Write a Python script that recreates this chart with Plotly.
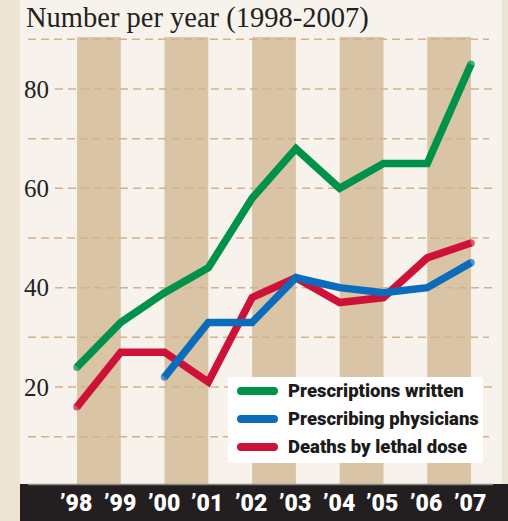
import plotly.graph_objects as go

# ---- data ----
years = [1998, 1999, 2000, 2001, 2002, 2003, 2004, 2005, 2006, 2007]
year_labels = ["\u201998", "\u201999", "\u201900", "\u201901", "\u201902",
               "\u201903", "\u201904", "\u201905", "\u201906", "\u201907"]
prescriptions = [24, 33, 39, 44, 58, 68, 60, 65, 65, 85]
physician_years = [2000, 2001, 2002, 2003, 2004, 2005, 2006, 2007]
physicians = [22, 33, 33, 42, 40, 39, 40, 45]
deaths = [16, 27, 27, 21, 38, 42, 37, 38, 46, 49]
series_names = ["Prescriptions written", "Prescribing physicians", "Deaths by lethal dose"]
y_tick_values = [20, 40, 60, 80]
grid_values = [10, 20, 30, 40, 50, 60, 70, 80, 90]
band_years = [1998, 2000, 2002, 2004, 2006]
title_text = "Number per year (1998-2007)"

# ---- styling / layout constants ----
W, H = 508, 521
GREEN, BLUE, RED = "#00924b", "#0b6cbb", "#cd1138"
BAND = "#d9c4a6"
GRID = "#d2b28a"
PANEL = "#f7f3ec"
OUTER = "#ede4d4"
DARK = "#231f20"
SERIF = "Liberation Serif, Times New Roman, serif"
NARROW = "Roboto, Liberation Sans, Arial, sans-serif"
LW = 7.5

def xp(px):
    return px / W

def yp(py):
    return 1 - py / H

# axis scaling so that 1998 -> 77px, 2007 -> 471px ; 20 -> 387px, 80 -> 89px
px_per_year = (471 - 77) / 9
px_per_unit = (387 - 89) / 60
x_range = [1998 - 77 / px_per_year, 1998 + (W - 77) / px_per_year]
y_range = [20 - (H - 387) / px_per_unit, 20 + 387 / px_per_unit]

fig = go.Figure()

def add_series(x, y, color, name):
    n = len(x)
    sizes = [LW] + [0] * (n - 2) + [LW]
    fig.add_trace(go.Scatter(
        x=x, y=y, mode="lines+markers", name=name,
        line=dict(color=color, width=LW),
        marker=dict(color=color, size=sizes, line=dict(width=0)),
        showlegend=False, hoverinfo="skip",
    ))

add_series(years, prescriptions, GREEN, series_names[0])
add_series(years, deaths, RED, series_names[2])
add_series(physician_years, physicians, BLUE, series_names[1])

shapes = []
# inner panel
shapes.append(dict(type="rect", xref="paper", yref="paper", x0=xp(20), x1=xp(502),
                   y0=0, y1=1, fillcolor=PANEL, line=dict(width=0), layer="below"))
# alternating year bands
for by in band_years:
    shapes.append(dict(type="rect", xref="x", yref="paper", x0=by, x1=by + 1,
                       y0=0, y1=yp(37), fillcolor=BAND, line=dict(width=0), layer="below"))
# dashed gridlines
for g in grid_values:
    if g in y_tick_values:
        x0, x1 = 55, 494
    else:
        x0, x1 = 28, 489
    shapes.append(dict(type="line", xref="paper", yref="y", x0=xp(x0), x1=xp(x1),
                       y0=g, y1=g, line=dict(color=GRID, width=1.5, dash="8px,5px"),
                       layer="below"))
# black bottom band
shapes.append(dict(type="rect", xref="paper", yref="paper", x0=xp(20), x1=1,
                   y0=0, y1=yp(484), fillcolor=DARK, line=dict(width=0), layer="below"))
shapes.append(dict(type="line", xref="paper", yref="paper", x0=xp(28), x1=xp(493),
                   y0=yp(484.5), y1=yp(484.5), line=dict(color="#8a8682", width=1.5),
                   layer="below"))
# legend box
shapes.append(dict(type="rect", xref="paper", yref="paper", x0=xp(228), x1=xp(483),
                   y0=yp(463), y1=yp(377), fillcolor="white", line=dict(width=0),
                   layer="below"))

annotations = []
legend_rows = [(391, GREEN), (419, BLUE), (447, RED)]
for (py, col), name in zip(legend_rows, series_names):
    shapes.append(dict(type="line", xref="paper", yref="paper", x0=xp(241), x1=xp(274),
                       y0=yp(py), y1=yp(py), line=dict(color=col, width=8)))
    for cx in (241, 274):
        shapes.append(dict(type="circle", xref="paper", yref="paper",
                           x0=xp(cx - 4), x1=xp(cx + 4), y0=yp(py + 4), y1=yp(py - 4),
                           fillcolor=col, line=dict(width=0)))
    annotations.append(dict(text=name, xref="paper", yref="paper",
                            x=xp(286), y=yp(py), xanchor="left", yanchor="middle",
                            showarrow=False,
                            font=dict(family=NARROW, size=18.5, weight=900, color="#1b1b1b")))

# y tick labels
for v in y_tick_values:
    annotations.append(dict(text=str(v), xref="paper", yref="y", x=xp(51), y=v,
                            xanchor="right", yanchor="middle", showarrow=False,
                            font=dict(family=SERIF, size=25, color="#222222")))
# year labels
for yr, lab in zip(years, year_labels):
    annotations.append(dict(text=lab, xref="x", yref="paper", x=yr,
                            y=yp(503), xanchor="center", yanchor="middle", showarrow=False,
                            xshift=-1,
                            font=dict(family=NARROW, size=23, weight=900, color="white")))
# title
annotations.append(dict(text=title_text, xref="paper", yref="paper", x=xp(24), y=yp(18),
                        xanchor="left", yanchor="middle", showarrow=False,
                        font=dict(family=SERIF, size=28.5, color="#222222")))

fig.update_layout(
    width=W, height=H,
    margin=dict(l=0, r=0, t=0, b=0, autoexpand=False),
    paper_bgcolor=OUTER, plot_bgcolor="rgba(0,0,0,0)",
    xaxis=dict(range=x_range, visible=False, fixedrange=True),
    yaxis=dict(range=y_range, visible=False, fixedrange=True),
    shapes=shapes, annotations=annotations,
    showlegend=False,
)

fig.write_html(
    "out.html",
    config={"displayModeBar": False},
    post_script="document.body.style.margin='0';document.body.style.overflow='hidden';",
)
